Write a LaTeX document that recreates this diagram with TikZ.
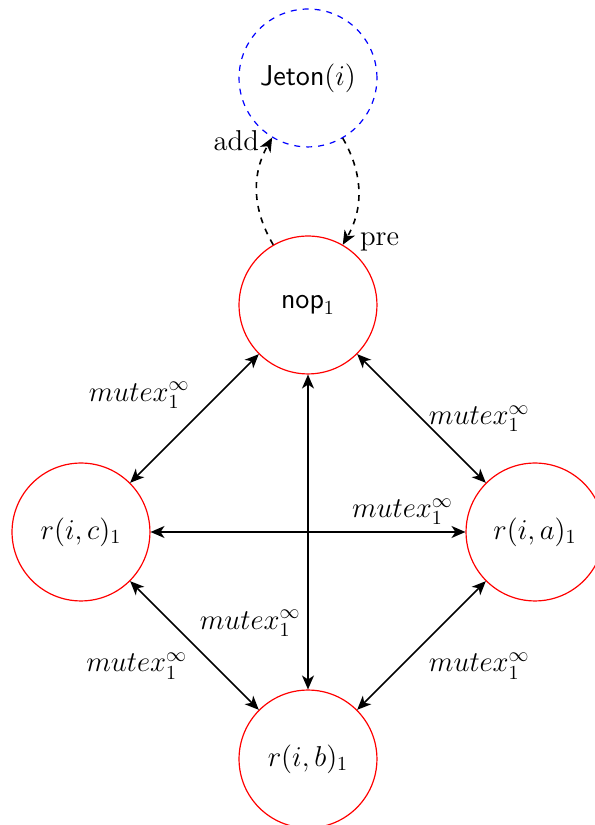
\documentclass[tikz,border=0pt]{standalone}
\usepackage{amsmath}
\usepackage{amssymb}
\usepackage{tikz}
\usetikzlibrary{arrows.meta, positioning, calc}
\definecolor{cred}{HTML}{FF0000}
\definecolor{cblue}{HTML}{0000FF}

\begin{document}
\begin{tikzpicture}[
    >={Stealth[length=7pt,width=6pt,inset=2pt]},
    place/.style={circle, draw=cred, semithick, minimum size=2.43cm, inner sep=0pt, font=\Large},
    token/.style={circle, draw=cblue, semithick, dashed, minimum size=2.43cm, inner sep=0pt, font=\Large},
    link/.style={<->, thick},
    lbl/.style={font=\Large}
  ]
  \useasboundingbox (-5.427,5.374) rectangle (5.057,-9.163);

  % places
  \node[token] (jeton) at (0,4) {$\textsf{Jeton}(i)$};
  \node[place] (nop) at (0,0) {$\textsf{nop}_1$};
  \node[place] (rc) at (-4,-4) {$r(i,c)_1$};
  \node[place] (ra) at (4,-4) {$r(i,a)_1$};
  \node[place] (rb) at (0,-8) {$r(i,b)_1$};

  % token loop
  \draw[->, thick, dashed] (nop.120) to[bend left=30] node[lbl, left=2pt, pos=0.97] {add} (jeton.239);
  \draw[->, thick, dashed] (jeton.300) to[bend left=30] node[lbl, right=4pt, pos=0.97] {pre} (nop.60);

  % mutex arcs
  \draw[link] (nop) -- (rc) node[lbl, above left, pos=0.48] {$mutex_1^\infty$};
  \draw[link] (nop) -- (ra) node[lbl, right, pos=0.5] {$mutex_1^\infty$};
  \draw[link] (rc) -- (ra) node[lbl, above, pos=0.8] {$mutex_1^\infty$};
  \draw[link] (nop) -- (rb) node[lbl, left, pos=0.79] {$mutex_1^\infty$};
  \draw[link] (rc) -- (rb) node[lbl, below left, pos=0.5] {$mutex_1^\infty$};
  \draw[link] (ra) -- (rb) node[lbl, below right, pos=0.5] {$mutex_1^\infty$};
\end{tikzpicture}
\end{document}
